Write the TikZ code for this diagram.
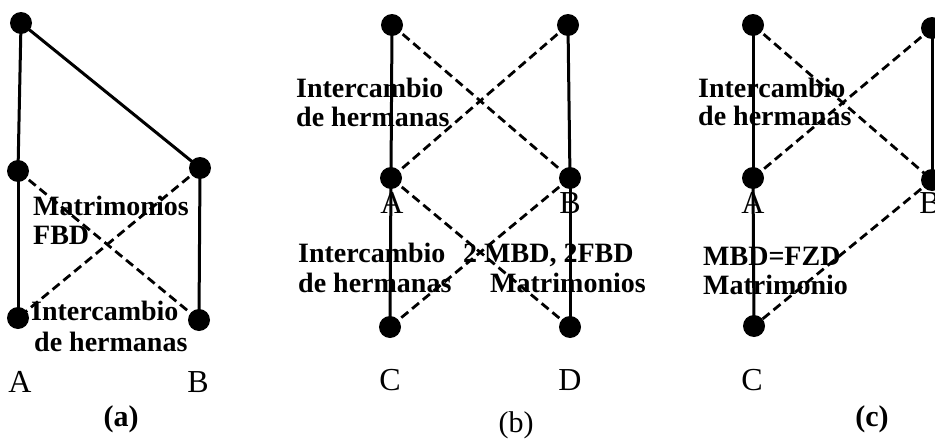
\documentclass[tikz,border=0pt]{standalone}
\usepackage{fontspec}
\setmainfont{Liberation Serif}
\begin{document}
\begin{tikzpicture}[x=1pt,y=-1pt,
  dot/.style={circle,fill=black,inner sep=0pt,minimum size=22pt},
  solidedge/.style={line width=3pt},
  dashedge/.style={line width=2.8pt,dash pattern=on 9pt off 5pt},
  txt/.style={anchor=base west,inner sep=0pt,font=\fontsize{28}{30}\selectfont\bfseries},
  lab/.style={anchor=base,inner sep=0pt,font=\fontsize{32}{34}\selectfont},
  caption/.style={anchor=center,inner sep=0pt,font=\fontsize{30}{32}\selectfont},
  boldcaption/.style={anchor=center,inner sep=0pt,font=\fontsize{30}{32}\selectfont\bfseries}]
\useasboundingbox (0,0) rectangle (935,439);
% ---------- panel (a)
\node[dot] (a1) at (21,23) {};
\node[dot] (a2) at (18,171) {};
\node[dot] (a3) at (200,168) {};
\node[dot] (a4) at (18,318) {};
\node[dot] (a5) at (199,320) {};
\draw[solidedge] (a1.center) -- (a2.center);
\draw[solidedge] (a1.center) -- (a3.center);
\draw[solidedge] (a2.center) -- (a4.center);
\draw[solidedge] (a3.center) -- (a5.center);
\draw[dashedge] (a2.center) -- (a5.center);
\draw[dashedge] (a3.center) -- (a4.center);
\node[txt] (ta1) at (33,215) {Matrimonios};
\node[txt] (ta2) at (33,244) {FBD};
\node[txt] (ta3) at (31,320) {Intercambio};
\node[txt] (ta4) at (34,351) {de hermanas};
\node[lab] (la) at (20,392) {A};
\node[lab] (lb) at (198,392) {B};
\node[boldcaption] (capa) at (121,419) {(a)};
% ---------- panel (b)
\node[dot] (b1) at (392,25) {};
\node[dot] (b2) at (568,25) {};
\node[dot] (bA) at (391,178) {};
\node[dot] (bB) at (570,178) {};
\node[dot] (bC) at (390,327) {};
\node[dot] (bD) at (570,327) {};
\draw[solidedge] (b1.center) -- (bA.center);
\draw[solidedge] (b2.center) -- (bB.center);
\draw[dashedge] (b1.center) -- (bB.center);
\draw[dashedge] (b2.center) -- (bA.center);
\draw[solidedge] (bA.center) -- (bC.center);
\draw[solidedge] (bB.center) -- (bD.center);
\draw[dashedge] (bA.center) -- (bD.center);
\draw[dashedge] (bB.center) -- (bC.center);
\node[txt] (tb1) at (296,97) {Intercambio};
\node[txt] (tb2) at (296,126) {de hermanas};
\node[txt] (tb3) at (298,262) {Intercambio};
\node[txt] (tb4) at (298,292) {de hermanas};
\node[txt] (tb5) at (463,262) {2 MBD, 2FBD};
\node[txt] (tb6) at (490,292) {Matrimonios};
\node[lab] (lbA) at (392,213) {A};
\node[lab] (lbB) at (570,213) {B};
\node[lab] (lbC) at (390,390) {C};
\node[lab] (lbD) at (570,390) {D};
\node[caption] (capb) at (516,425) {(b)};
% ---------- panel (c)
\node[dot] (c1) at (753,25) {};
\node[dot] (c2) at (932,28) {};
\node[dot] (cA) at (753,178) {};
\node[dot] (cB) at (932,180) {};
\node[dot] (cC) at (754,326) {};
\draw[solidedge] (c1.center) -- (cA.center);
\draw[solidedge] (c2.center) -- (cB.center);
\draw[dashedge] (c1.center) -- (cB.center);
\draw[dashedge] (c2.center) -- (cA.center);
\draw[solidedge] (cA.center) -- (cC.center);
\draw[dashedge] (cB.center) -- (cC.center);
\node[txt] (tc1) at (698,97) {Intercambio};
\node[txt] (tc2) at (698,125) {de hermanas};
\node[txt] (tc3) at (703,265) {MBD=FZD};
\node[txt] (tc4) at (703,294) {Matrimonio};
\node[lab] (lcA) at (753,213) {A};
\node[lab] (lcB) at (930,213) {B};
\node[lab] (lcC) at (752,390) {C};
\node[boldcaption] (capc) at (872,419) {(c)};
\end{tikzpicture}
\end{document}
